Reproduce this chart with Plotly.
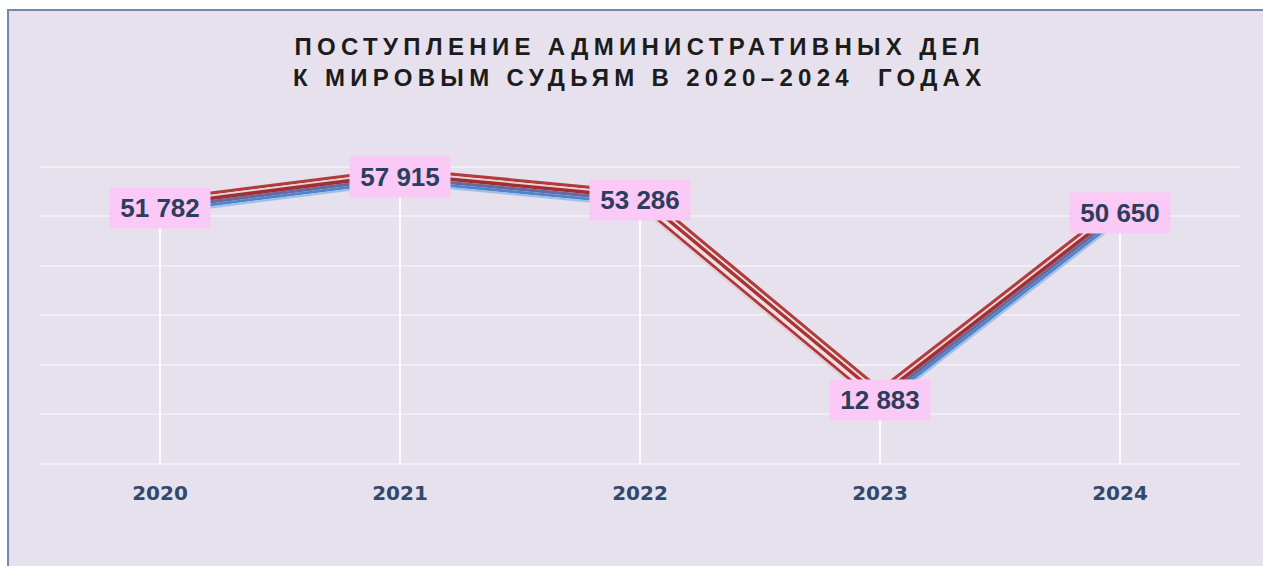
import math
import plotly.graph_objects as go

# ---- data ----
years = ["2020", "2021", "2022", "2023", "2024"]
cases = [51782, 57915, 53286, 12883, 50650]
labels = ["51 782", "57 915", "53 286", "12 883", "50 650"]
title_lines = ["ПОСТУПЛЕНИЕ АДМИНИСТРАТИВНЫХ ДЕЛ", "К МИРОВЫМ СУДЬЯМ В 2020–2024  ГОДАХ"]

# ---- layout geometry (screen pixels; body margin removed in the page) ----
W, H = 1263, 566
L, R, T, B = 40, 23, 117, 102
PW, PH = W - L - R, H - T - B
YMIN, YMAX = -100, 70100
upp = (YMAX - YMIN) / PH          # data units per pixel (vertical)
cat_px = PW / len(years)          # pixels per category step

BG = "#e6e1ed"
GRID = "#f1eef6"
NAVY = "#2b3e5e"
FONT = "Liberation Sans, Arial, sans-serif"

def px_to_paper_x(px):
    return (px - L) / PW

def px_to_paper_y(py):
    return (H - B - py) / PH

fig = go.Figure()

# vertical white drop lines (error bars from each point down to zero)
fig.add_trace(go.Scatter(
    x=years, y=cases, mode="markers",
    marker=dict(size=1, color="rgba(0,0,0,0)"),
    error_y=dict(type="data", symmetric=False, array=[0] * len(cases),
                 arrayminus=cases, color="rgba(255,255,255,0.85)",
                 thickness=2, width=0),
    hoverinfo="skip", showlegend=False,
))

# striped ribbon line: (perpendicular pixel offset, width, colour, colour on steep fall)
stripes = [
    (-7.9, 3.3, "#b03c3c", "#b03c3c"),
    (-5.4, 1.9, "#ead3db", "#f0dde4"),
    (-2.8, 3.6, "#a32e30", "#a83434"),
    (0.6, 3.3, "#6a689e", "#f0dde4"),
    (3.7, 2.9, "#4d84cb", "#ad3838"),
    (6.2, 2.2, "#9fc1e8", "#e6d0d8"),
]
for i in range(len(cases) - 1):
    seg = cases[i:i + 2]
    rise_px = (seg[1] - seg[0]) / upp
    stretch = math.hypot(1.0, rise_px / cat_px)   # keep stripe spacing perpendicular
    steep_fall = seg[1] - seg[0] < -20000
    for off, w, col, col_fall in stripes:
        fig.add_trace(go.Scatter(
            x=years[i:i + 2], y=[v - off * stretch * upp for v in seg],
            mode="lines", line=dict(color=col_fall if steep_fall else col, width=w),
            hoverinfo="skip", showlegend=False, cliponaxis=False,
        ))

# value labels (category axis: annotation x uses the category index)
for i, (v, lab) in enumerate(zip(cases, labels)):
    fig.add_annotation(
        x=i, y=v, text=lab, showarrow=False,
        font=dict(family=FONT, size=26, color=NAVY, weight="bold"),
        bgcolor="#fbc9f6", width=94, height=34, borderpad=3,
        xanchor="center", yanchor="middle",
    )

# title
title_html = "<br>".join(
    f'<span style="letter-spacing:5.3px">{t}</span>' for t in title_lines
)
fig.add_annotation(
    x=0.5, y=px_to_paper_y(31), xref="paper", yref="paper",
    text=title_html, showarrow=False, xanchor="center", yanchor="top",
    font=dict(family=FONT, size=24, color="#1c1c1c", weight="bold"),
)

# white page margin with a border on top/left of the panel
shapes = [
    dict(type="rect", xref="paper", yref="paper", layer="below",
         x0=px_to_paper_x(-2), x1=px_to_paper_x(W + 2),
         y0=px_to_paper_y(9), y1=px_to_paper_y(-2),
         fillcolor="white", line=dict(width=0)),
    dict(type="rect", xref="paper", yref="paper", layer="below",
         x0=px_to_paper_x(-2), x1=px_to_paper_x(7),
         y0=px_to_paper_y(H + 2), y1=px_to_paper_y(-2),
         fillcolor="white", line=dict(width=0)),
    dict(type="line", xref="paper", yref="paper", layer="above",
         x0=px_to_paper_x(7), x1=px_to_paper_x(W + 2),
         y0=px_to_paper_y(10), y1=px_to_paper_y(10),
         line=dict(color="#7089ae", width=2)),
    dict(type="line", xref="paper", yref="paper", layer="above",
         x0=px_to_paper_x(8), x1=px_to_paper_x(8),
         y0=px_to_paper_y(10), y1=px_to_paper_y(H + 2),
         line=dict(color="#7089ae", width=2)),
]

fig.update_layout(
    width=W, height=H,
    margin=dict(l=L, r=R, t=T, b=B, pad=0),
    paper_bgcolor=BG, plot_bgcolor="rgba(0,0,0,0)",
    showlegend=False, shapes=shapes,
    xaxis=dict(
        type="category", range=[-0.5, 4.5], showgrid=False, zeroline=False,
        showline=False, ticks="outside", ticklen=11, tickcolor="rgba(0,0,0,0)",
        tickfont=dict(family="DejaVu Sans, sans-serif", size=20, color="#2f4a6c", weight="bold"),
        fixedrange=True,
    ),
    yaxis=dict(
        range=[YMIN, YMAX], tick0=0, dtick=10000, showgrid=True, gridcolor=GRID,
        gridwidth=1.5, zeroline=True, zerolinecolor=GRID, zerolinewidth=1.5,
        showticklabels=False, showline=False, fixedrange=True,
    ),
)

fig.write_html(
    "out.html",
    config={"displayModeBar": False},
    post_script="document.body.style.margin='0';"
                "document.documentElement.style.overflow='hidden';"
                "document.body.style.overflow='hidden';",
)
